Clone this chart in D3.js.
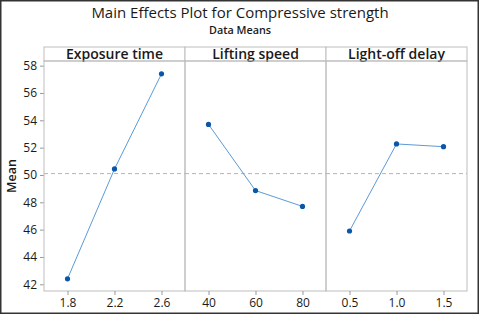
<!DOCTYPE html>
<html><head><meta charset="utf-8">
<script src="https://cdn.jsdelivr.net/npm/d3@7"></script>
<style>body{margin:0;background:#fff}svg{display:block}text{font-family:"Open Sans","Noto Sans",sans-serif;fill:#1a1a1a}</style>
</head><body><svg id="c" width="480" height="316"></svg>
<script>
const factors = ["Exposure time", "Lifting speed", "Light-off delay"];
const levels = [[1.8, 2.2, 2.6], [40, 60, 80], [0.5, 1.0, 1.5]];
const levelLabels = [["1.8", "2.2", "2.6"], ["40", "60", "80"], ["0.5", "1.0", "1.5"]];
const means = [[42.4, 50.44, 57.4], [53.7, 48.86, 47.7], [45.9, 52.27, 52.07]];
const grandMean = 50.1;
const yTicks = [42, 44, 46, 48, 50, 52, 54, 56, 58];

const svg = d3.select("#c");
svg.append("rect").attr("x", 0.75).attr("y", 0.75).attr("width", 477.5).attr("height", 312.5)
  .attr("fill", "#fff").attr("stroke", "#333").attr("stroke-width", 1.5);

svg.append("text").attr("x", 240).attr("y", 18).attr("text-anchor", "middle")
  .style("font-size", "15px").style("font-weight", 500).text("Main Effects Plot for Compressive strength");
svg.append("text").attr("x", 240).attr("y", 33.5).attr("text-anchor", "middle")
  .style("font-size", "10.8px").style("font-weight", 600).text("Data Means");

const pLeft = 44, pRight = 467, pTop = 47, stripB = 61, pBottom = 291;
const pw = (pRight - pLeft) / 3;
const y = d3.scaleLinear().domain([41.51, 58.34]).range([pBottom, stripB]);

const ya = svg.append("g").attr("transform", `translate(${pLeft},0)`)
  .call(d3.axisLeft(y).tickValues(yTicks).tickSize(4).tickPadding(3));
ya.select(".domain").remove();
ya.selectAll("line").attr("stroke", "#999");
ya.selectAll("text").style("font-size", "12px").style("font-weight", 500).style("font-family", '"Open Sans","Noto Sans",sans-serif').attr("fill", "#1a1a1a");

svg.append("text").attr("transform", `translate(16,${(stripB+pBottom)/2}) rotate(-90)`)
  .attr("text-anchor", "middle").style("font-size", "12.5px").style("font-weight", 600).text("Mean");

factors.forEach((f, i) => {
  const x0 = pLeft + i * pw, x1 = x0 + pw;
  const lv = levels[i];
  const step = lv[1] - lv[0];
  const x = d3.scaleLinear().domain([lv[0] - step / 2, lv[2] + step / 2]).range([x0, x1]);
  const g = svg.append("g");
  g.append("rect").attr("x", x0).attr("y", pTop).attr("width", pw).attr("height", stripB - pTop)
    .attr("fill", "#fff").attr("stroke", "#bdbdbd");
  g.append("text").attr("x", (x0 + x1) / 2).attr("y", pTop + 12).attr("text-anchor", "middle")
    .style("font-size", "14px").style("font-weight", 600).text(f);
  g.append("rect").attr("x", x0).attr("y", stripB).attr("width", pw).attr("height", pBottom - stripB)
    .attr("fill", "none").attr("stroke", "#bdbdbd");
  g.append("line").attr("x1", x0).attr("x2", x1).attr("y1", y(grandMean)).attr("y2", y(grandMean))
    .attr("stroke", "#b5b5b5").attr("stroke-dasharray", "4,3");
  const xa = svg.append("g").attr("transform", `translate(0,${pBottom})`)
    .call(d3.axisBottom(x).tickValues(lv).tickFormat((d, j) => levelLabels[i][j]).tickSize(4).tickPadding(3));
  xa.select(".domain").remove();
  xa.selectAll("line").attr("stroke", "#999");
  xa.selectAll("text").style("font-size", "12px").style("font-weight", 500).style("font-family", '"Open Sans","Noto Sans",sans-serif').attr("fill", "#1a1a1a");
  const pts = lv.map((v, j) => [v, means[i][j]]);
  g.append("path").datum(pts).attr("fill", "none").attr("stroke", "#5b9ad8").attr("stroke-width", 1)
    .attr("d", d3.line().x(d => x(d[0])).y(d => y(d[1])));
  g.selectAll("circle").data(pts).join("circle").attr("cx", d => x(d[0])).attr("cy", d => y(d[1]))
    .attr("r", 2.6).attr("fill", "#0a56a8");
});
</script></body></html>
